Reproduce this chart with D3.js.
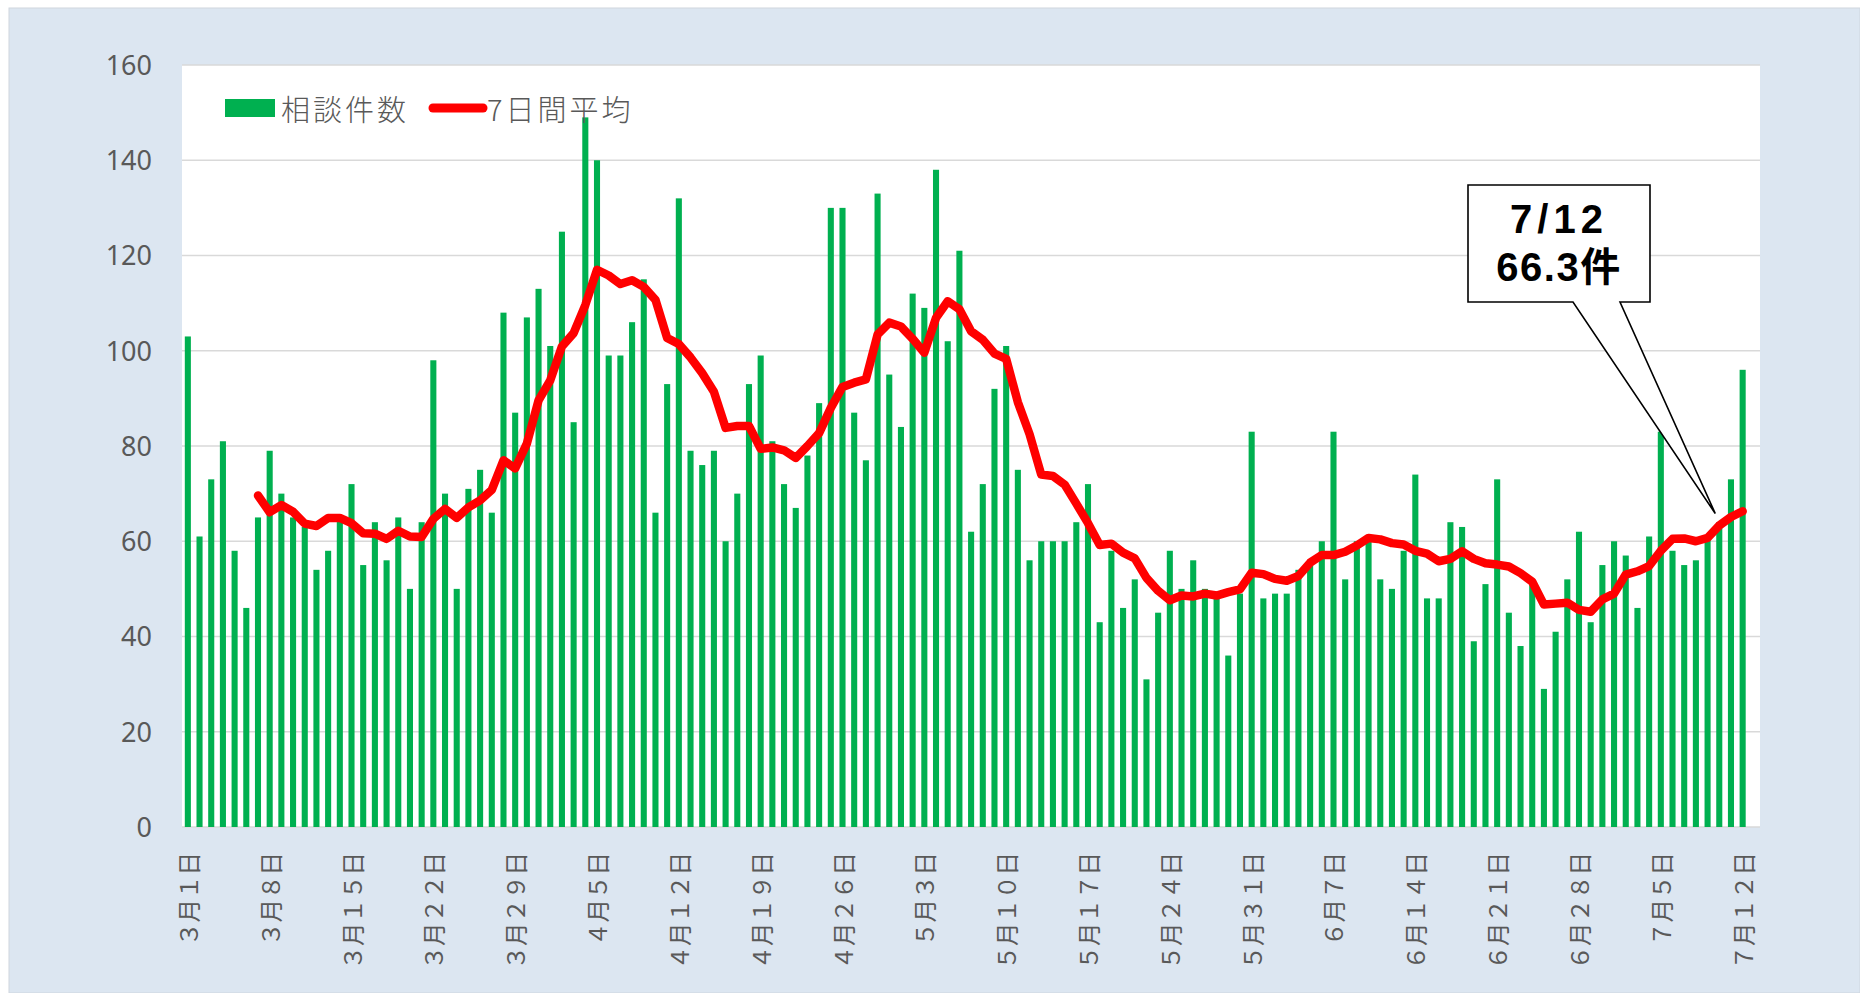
<!DOCTYPE html>
<html><head><meta charset="utf-8">
<script src="https://cdn.jsdelivr.net/npm/d3@7"></script>
<style>
html,body{margin:0;padding:0;background:#fff;}
svg{display:block;}
</style></head>
<body>
<svg id="chart" width="1860" height="993"></svg>
<script>
// ---- DATA ----
const monthLengths = [[3,31],[4,30],[5,31],[6,30],[7,12]];
const categories = monthLengths.flatMap(([m,n]) => d3.range(1,n+1).map(d => `${m}月${d}日`));

const consultations = [
 103,61,73,81,58,46,65,79,70,65,63,54,58,65,72,55,64,56,65,50,64,98,70,50,71,75,66,108,87,107,113,
 101,125,85,149,140,99,99,106,115,66,93,132,79,76,79,60,70,93,99,81,72,67,78,89,130,130,87,77,133,
 95,84,112,109,138,102,121,62,72,92,101,75,56,60,60,60,64,72,43,58,46,52,31,45,58,50,56,50,48,36,49,
 83,48,49,49,54,56,60,83,52,60,60,52,50,58,74,48,48,64,63,39,51,73,45,38,51,29,41,52,62,
 43,55,60,57,46,61,83,58,55,56,61,64,73,96
];

const avg7 = [
 null,null,null,null,null,null,69.6,66.1,67.6,66.2,63.7,63.2,64.9,64.9,63.8,61.7,61.6,60.5,62.2,61.0,60.9,64.7,66.8,64.9,67.1,68.6,70.8,77.0,75.3,80.5,89.6,
 93.8,100.9,103.7,109.6,117.0,115.8,114.0,114.8,113.4,110.7,102.7,101.4,98.6,95.3,91.4,83.8,84.2,84.2,79.4,79.7,79.1,77.5,80.0,82.7,88.0,92.4,93.3,94.0,103.4,
 105.9,105.1,102.5,99.6,106.9,110.4,108.7,104.1,102.3,99.4,98.3,89.2,82.5,74.0,73.7,71.9,67.9,63.8,59.2,59.5,57.6,56.4,52.3,49.6,47.6,48.6,48.4,49.0,48.6,49.3,49.9,
 53.4,53.1,52.1,51.7,52.7,55.5,57.1,57.1,57.8,59.1,60.7,60.4,59.6,59.3,58.0,57.4,55.8,56.3,57.9,56.3,55.4,55.1,54.7,53.3,51.5,46.7,46.9,47.1,45.6,
 45.2,47.8,49.0,53.0,53.7,54.8,58.0,60.5,60.6,60.0,60.7,63.3,65.1,66.3
];

const xTickLabels = ["3月1日","3月8日","3月15日","3月22日","3月29日","4月5日","4月12日","4月19日","4月26日","5月3日",
 "5月10日","5月17日","5月24日","5月31日","6月7日","6月14日","6月21日","6月28日","7月5日","7月12日"];
const yTicks = [0,20,40,60,80,100,120,140,160];
const seriesNames = ["相談件数","7日間平均"];
const calloutLines = ["7/12","66.3件"];
const calloutIndex = 131;

// ---- LAYOUT ----
const svg = d3.select("#chart");
const plot = {left:182, right:1760, top:65, bottom:827};
const barRight = 1748.5;
const grey = "#595959";
const green = "#00b050";
const red = "#ff0000";

// panel background
svg.append("rect").attr("x",9).attr("y",8).attr("width",1860-9).attr("height",993-8)
  .attr("fill","#dce6f1").attr("stroke","#cfd6de").attr("stroke-width",1);
// plot area
svg.append("rect").attr("x",plot.left).attr("y",plot.top)
  .attr("width",plot.right-plot.left).attr("height",plot.bottom-plot.top).attr("fill","#fff");

const x = d3.scaleBand().domain(categories).range([plot.left, barRight])
  .paddingInner(0.48).paddingOuter(0.24);
const y = d3.scaleLinear().domain([0,160]).range([plot.bottom, plot.top]);

// gridlines
svg.append("g").selectAll("line").data(yTicks).join("line")
  .attr("x1",plot.left).attr("x2",plot.right)
  .attr("y1",d=>y(d)).attr("y2",d=>y(d))
  .attr("stroke","#d9d9d9").attr("stroke-width",1.6);

// y axis labels
const yAxis = d3.axisLeft(y).tickValues(yTicks).tickSize(0).tickPadding(0);
const yg = svg.append("g").attr("transform",`translate(152,0)`).call(yAxis);
yg.select(".domain").remove();
yg.selectAll("text").attr("font-family","'Noto Sans', sans-serif").attr("font-size",27)
  .attr("fill",grey).attr("dy","0.35em");

// bars
svg.append("g").selectAll("rect").data(consultations).join("rect")
  .attr("x",(d,i)=>x(categories[i])).attr("width",x.bandwidth())
  .attr("y",d=>y(d)).attr("height",d=>y(0)-y(d))
  .attr("fill",green);

// line
const line = d3.line().defined(d=>d!=null)
  .x((d,i)=>x(categories[i])+x.bandwidth()/2).y(d=>y(d));
svg.append("path").datum(avg7).attr("d",line).attr("fill","none")
  .attr("stroke",red).attr("stroke-width",8.5).attr("stroke-linejoin","round").attr("stroke-linecap","round");

// x labels
const xAxis = d3.axisBottom(x).tickValues(xTickLabels).tickSize(0).tickPadding(0);
const xg = svg.append("g").attr("transform",`translate(0,${plot.bottom})`).call(xAxis);
xg.select(".domain").remove();
xg.selectAll("text")
  .attr("font-family","'Noto Sans CJK JP', sans-serif").attr("font-size",23.5)
  .attr("fill",grey).attr("text-anchor","end")
  .attr("dominant-baseline","central").attr("dy",null).attr("y",null)
  .style("font-variant-east-asian","full-width")
  .attr("transform","translate(0,25) rotate(-90)");

// legend
const lg = svg.append("g");
lg.append("rect").attr("x",225).attr("y",99).attr("width",50).attr("height",18).attr("fill",green);
lg.append("text").attr("x",281).attr("y",108).text(seriesNames[0]);
lg.append("line").attr("x1",433).attr("x2",483).attr("y1",108).attr("y2",108)
  .attr("stroke",red).attr("stroke-width",9).attr("stroke-linecap","round");
lg.append("text").attr("x",487).attr("y",108).text(seriesNames[1]);
lg.selectAll("text").attr("font-family","'Noto Sans CJK JP', sans-serif").attr("font-size",29)
  .attr("font-weight",300).attr("letter-spacing",3)
  .attr("fill",grey).attr("dominant-baseline","central");

// callout
const tipX = x(categories[calloutIndex]) + x.bandwidth()/2 - 4;
const tipY = y(avg7[calloutIndex]) - 12;
const box = {x0:1468, x1:1650, y0:185, y1:302};
const cp = d3.path();
cp.moveTo(box.x0,box.y0); cp.lineTo(box.x1,box.y0); cp.lineTo(box.x1,box.y1);
cp.lineTo(1620,box.y1); cp.lineTo(tipX,tipY); cp.lineTo(1573,box.y1);
cp.lineTo(box.x0,box.y1); cp.closePath();
svg.append("path").attr("d",cp.toString()).attr("fill","#fff").attr("stroke","#000").attr("stroke-width",1.6);
svg.append("g").selectAll("text").data(calloutLines).join("text")
  .attr("x",(box.x0+box.x1)/2).attr("y",(d,i)=>233+i*48)
  .attr("text-anchor","middle").attr("font-family","'Liberation Sans', 'Noto Sans CJK JP', sans-serif")
  .attr("font-weight",700).attr("font-size",40).attr("letter-spacing",(d,i)=>i===0?5:1.5).attr("fill","#000")
  .text(d=>d);
</script>
</body></html>
